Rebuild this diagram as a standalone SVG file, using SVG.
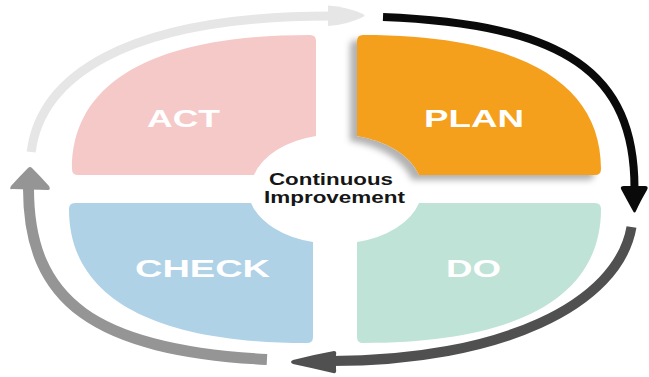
<svg xmlns="http://www.w3.org/2000/svg" xmlns:xlink="http://www.w3.org/1999/xlink" width="649" height="377" viewBox="0 0 649 377">
<style>
.lbl{font-family:"Liberation Sans",Arial,sans-serif;font-weight:bold;font-size:24px;fill:#ffffff}
.ctr{font-family:"Liberation Sans",Arial,sans-serif;font-weight:bold;font-size:16.5px;fill:#161616}
.ring{fill:none;stroke-linecap:butt}
</style>
<defs>
<path id="quad" d="M316,41 L316,136 A85 55 0 0 0 254,175 L78,175 Q72,175 72,169 C72,81 155,35 310,35 Q316,35 316,41 Z"/>
<filter id="sh" x="-20%" y="-20%" width="140%" height="140%">
<feDropShadow dx="-7" dy="5" stdDeviation="3" flood-color="#000" flood-opacity="0.3"/>
</filter>
</defs>
<rect width="649" height="377" fill="#ffffff"/>
<g id="connectors">
<path class="ring" stroke="#e6e6e6" stroke-width="9" d="M31.2,152 C40,80 120,16 331.5,16 L334,16"/>
<path fill="#e6e6e6" d="M328,5.5 Q348,7 363,14 Q366,15.5 363,17 Q348,24.5 328,26 Z"/>
<path class="ring" stroke="#0a0a0a" stroke-width="8" d="M383,16.95 C565.5,24.15 634.5,72.87 634.5,188.5 L634.5,191"/>
<path fill="#0a0a0a" d="M621,189 Q620,186 624,186 L645,186 Q649,186 647,190 Q640,202 636,211 Q634.5,214 633,211 Q628,202 621,189 Z"/>
<path class="ring" stroke="#505050" stroke-width="10" d="M631.5,227 C618,305 500,361 331.5,361 L329,361"/>
<path fill="#505050" d="M334,351 Q337,351 336,355 L336,369 Q337,374 333,373 Q312,368 293,364 Q289,362 293,360 Q312,355 334,351 Z"/>
<path class="ring" stroke="#959595" stroke-width="11" d="M266.95,359.45 C94.18,350.45 28.5,301.33 28.5,188.5 L28.5,186"/>
<path fill="#959595" d="M12,189 Q9,190 11,186 Q20,176 28,168 Q30,166 32,168 Q40,176 49,186 Q51,190 48,190 Z"/>
</g>
<g id="act">
<use xlink:href="#quad" fill="#f6c9c9"/>
<text class="lbl" x="147" y="127" textLength="73" lengthAdjust="spacingAndGlyphs">ACT</text>
</g>
<g id="plan">
<g filter="url(#sh)"><use xlink:href="#quad" fill="#f5a01f" transform="translate(673,0) scale(-1,1)"/></g>
<text class="lbl" x="424" y="127" textLength="100" lengthAdjust="spacingAndGlyphs">PLAN</text>
</g>
<g id="check">
<use xlink:href="#quad" fill="#afd2e7" transform="translate(-3,378) scale(1,-1)"/>
<text class="lbl" x="135" y="277" textLength="135" lengthAdjust="spacingAndGlyphs">CHECK</text>
</g>
<g id="do">
<use xlink:href="#quad" fill="#c0e3d7" transform="translate(673,378) scale(-1,-1)"/>
<text class="lbl" x="446" y="277" textLength="55" lengthAdjust="spacingAndGlyphs">DO</text>
</g>
<g id="center">
<text class="ctr" x="269" y="185" textLength="124" lengthAdjust="spacingAndGlyphs">Continuous</text>
<text class="ctr" x="264" y="203" textLength="141" lengthAdjust="spacingAndGlyphs">Improvement</text>
</g>
</svg>
